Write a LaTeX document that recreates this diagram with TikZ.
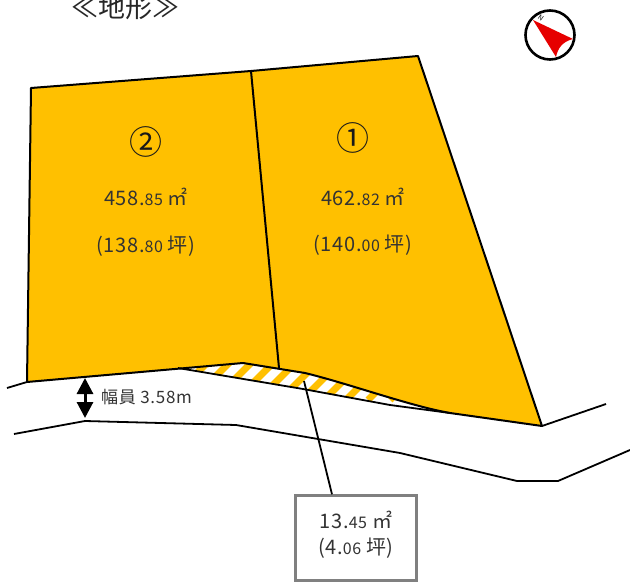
\documentclass[tikz,border=0pt]{standalone}
\usepackage{fontspec}
\setmainfont{Noto Sans CJK JP}
\usetikzlibrary{arrows.meta,positioning}
\definecolor{lotorange}{RGB}{255,192,0}
\definecolor{compassred}{RGB}{230,0,0}
\definecolor{boxgray}{RGB}{128,128,128}
\tikzset{
    lotline/.style={draw=black, line width=2pt, line join=round},
    roadline/.style={draw=black, line width=1.8pt, line join=round},
    arealabel/.style={font=\fontsize{20}{22}\selectfont\addfontfeature{LetterSpace=3}, text=black!80},
}
\newcommand{\dec}[1]{{\fontsize{16}{17}\selectfont #1}}

\begin{document}
\begin{tikzpicture}[x=1pt,y=-1pt]
    \useasboundingbox (0,0) rectangle (630,583);
    % Title
    \node[font=\fontsize{27}{29}\selectfont, text=black!85] (title) at (125,7) {≪地形≫};

    % Compass
    \node[circle, draw, line width=2.6pt, minimum size=49pt, inner sep=0pt] (compass) at (550,35) {};
    \fill[compassred] (533,20) -- (573,39) .. controls (562,42) and (558,48) .. (556,57) -- cycle;
    \node[font=\fontsize{7}{8}\selectfont, rotate=-35, inner sep=0pt] (north) at (541,18) {N};

    % Lots
    \fill[lotorange] (31,88) -- (251,71) -- (418,56) -- (542,426) -- (450,413)
        .. controls (410,406) and (350,384) .. (305,373) -- (243,363) -- (27,382) -- cycle;

    % Hatched strip
    \begin{scope}
        \clip (178,368) -- (243,363) -- (305,373) .. controls (350,384) and (410,406) .. (450,413)
            -- (390,405) -- (303,389) -- cycle;
        \foreach \x in {170,192,...,450} {
            \draw[lotorange, line width=7pt] (\x,400) -- (\x+40,360);
        }
    \end{scope}
    \draw[roadline] (178,368) -- (303,389) -- (390,405) -- (450,413);

    % Outline
    \draw[lotline] (31,88) -- (251,71) -- (418,56) -- (542,426) -- (450,413)
        .. controls (410,406) and (350,384) .. (305,373) -- (243,363) -- (27,382) -- cycle;
    \coordinate (divtop) at (251,71);
    \coordinate (divbot) at (279,368);
    \draw[lotline] (divtop) -- (divbot);

    % Road
    \draw[roadline] (7,388) -- (27,382);
    \draw[roadline] (542,426) -- (606,404);
    \draw[roadline] (14,434) -- (85,421) -- (236,425) -- (400,453) -- (517,481) -- (558,481) -- (630,450);

    % Road width
    \coordinate (widthtop) at (85,378);
    \coordinate (widthbot) at (85,418);
    \draw[{Triangle[length=16pt,width=16pt]}-{Triangle[length=16pt,width=16pt]}, line width=3pt] (widthtop) -- (widthbot);
    \node[font=\fontsize{17}{19}\selectfont\addfontfeature{LetterSpace=4}, text=black!80, anchor=west, inner sep=0pt] (roadwidth) at (101,397) {幅員 3.58m};

    % Lot labels
    \node[font=\fontsize{33}{36}\selectfont, text=black!90] (lottwo) at (146,142) {②};
    \node[arealabel] (lottwoarea) at (146,197) {458.\dec{85} ㎡};
    \node[arealabel] (lottwotsubo) at (146,246) {(138.\dec{80} 坪)};
    \node[font=\fontsize{33}{36}\selectfont, text=black!90] (lotone) at (353,138) {①};
    \node[arealabel] (lotonearea) at (363,197) {462.\dec{82} ㎡};
    \node[arealabel] (lotonetsubo) at (363,245) {(140.\dec{00} 坪)};

    % Callout
    \node[draw=boxgray, line width=2.4pt, fill=white, minimum width=121pt, minimum height=85pt, inner sep=0pt] (callout) at (356,538) {};
    \node[arealabel] (calloutarea) at (356,520) {13.\dec{45} ㎡};
    \node[arealabel] (callouttsubo) at (356,548) {(4.\dec{06} 坪)};
    \coordinate (stripmark) at (304,381);
    \draw[line width=1.8pt] (stripmark) -- (callout.north -| 332,0);
\end{tikzpicture}
\end{document}
